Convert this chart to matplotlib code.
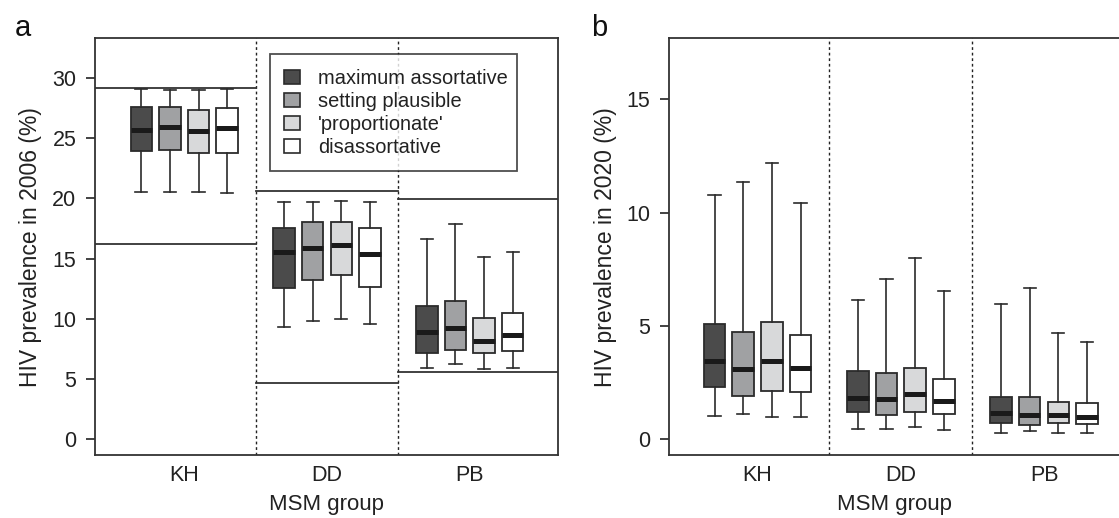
import matplotlib
matplotlib.use("Agg")
import matplotlib.pyplot as plt
from matplotlib.patches import Patch

plt.rcParams['font.family'] = ['Liberation Sans', 'DejaVu Sans']

# MSM groups and mixing scenarios
groups = ["KH", "DD", "PB"]
scenarios = ["maximum assortative", "setting plausible", "'proportionate'", "disassortative"]
colors = ["#4b4b4b", "#a0a1a3", "#d8d9da", "#ffffff"]

# panel a: prevalence 2006, per group -> 4 scenarios
a_whishi = [[29.05, 28.95, 29.0, 29.1], [19.67, 19.67, 19.78, 19.67], [16.6, 17.9, 15.1, 15.5]]
a_q3 = [[27.6, 27.6, 27.3, 27.5], [17.56, 18.0, 18.05, 17.56], [11.06, 11.5, 10.04, 10.5]]
a_med = [[25.7, 25.9, 25.6, 25.8], [15.5, 15.85, 16.1, 15.35], [8.9, 9.2, 8.15, 8.65]]
a_q1 = [[23.95, 24.0, 23.75, 23.75], [12.56, 13.2, 13.6, 12.6], [7.2, 7.4, 7.13, 7.33]]
a_whislo = [[20.5, 20.55, 20.5, 20.4], [9.3, 9.8, 10.0, 9.6], [5.95, 6.27, 5.83, 5.94]]
# observed range per group (horizontal lines)
a_obs_lo = [16.2, 4.67, 5.58]
a_obs_hi = [29.15, 20.6, 19.97]

# panel b: prevalence 2020
b_whishi = [[10.75, 11.36, 12.17, 10.44], [6.15, 7.07, 8.0, 6.54], [5.96, 6.69, 4.68, 4.31]]
b_q3 = [[5.07, 4.75, 5.17, 4.59], [3.01, 2.94, 3.16, 2.67], [1.88, 1.88, 1.66, 1.59]]
b_med = [[3.47, 3.09, 3.47, 3.15], [1.81, 1.78, 2.01, 1.69], [1.15, 1.09, 1.06, 1.0]]
b_q1 = [[2.32, 1.92, 2.14, 2.07], [1.22, 1.09, 1.22, 1.12], [0.73, 0.63, 0.73, 0.66]]
b_whislo = [[1.04, 1.12, 0.97, 0.97], [0.45, 0.45, 0.53, 0.41], [0.29, 0.37, 0.29, 0.26]]

a_ticks = [0, 5, 10, 15, 20, 25, 30]
b_ticks = [0, 5, 10, 15]

edge = "#2b2b2b"
offsets = [-0.3, -0.1, 0.1, 0.3]


def draw_boxes(ax, whishi, q3, med, q1, whislo):
    for g in range(len(groups)):
        for s in range(len(scenarios)):
            st = dict(med=med[g][s], q1=q1[g][s], q3=q3[g][s],
                      whislo=whislo[g][s], whishi=whishi[g][s], fliers=[])
            ax.bxp([st], positions=[g + 1 + offsets[s]], widths=0.15,
                   capwidths=0.085, patch_artist=True, showfliers=False,
                   boxprops=dict(facecolor=colors[s], edgecolor=edge, linewidth=1.3),
                   medianprops=dict(color="#1a1a1a", linewidth=3.6, solid_capstyle="butt"),
                   whiskerprops=dict(color=edge, linewidth=1.2),
                   capprops=dict(color=edge, linewidth=1.2),
                   manage_ticks=False)


def style_axes(ax, ylim, yticks, xlim, ylabel):
    ax.set_xlim(*xlim)
    ax.set_ylim(*ylim)
    ax.set_yticks(yticks)
    ax.set_xticks([1, 2, 3])
    ax.set_xticklabels(groups)
    ax.tick_params(axis="y", length=6.5, width=1.2, pad=7, labelsize=15.5, colors="#222222")
    ax.tick_params(axis="x", length=0, pad=7, labelsize=15.5, colors="#222222")
    for sp in ax.spines.values():
        sp.set_linewidth(1.3)
        sp.set_color("#333333")
    for xv in [1.5, 2.5]:
        ax.axvline(xv, color="#222222", linewidth=1.0, linestyle=(0, (2, 2)))
    ax.set_ylabel(ylabel, fontsize=16.5, color="#222222", labelpad=7)
    ax.set_xlabel("MSM group", fontsize=16, color="#222222", labelpad=6)


fig = plt.figure(figsize=(11.19, 5.18), dpi=100)
ax_a = fig.add_axes([95 / 1119, 1 - 455 / 518, 463 / 1119, 416.7 / 518])
ax_b = fig.add_axes([669 / 1119, 1 - 455 / 518, 452 / 1119, 416.7 / 518])

# panel a
style_axes(ax_a, (-1.30, 33.27), a_ticks, (0.375, 3.618), "HIV prevalence in 2006 (%)")
x_edges = [0.375, 1.5, 2.5, 3.618]
for g in range(len(groups)):
    for yv in (a_obs_lo[g], a_obs_hi[g]):
        ax_a.plot([x_edges[g], x_edges[g + 1]], [yv, yv], color="#333333", linewidth=1.3)
draw_boxes(ax_a, a_whishi, a_q3, a_med, a_q1, a_whislo)

handles = [Patch(facecolor=c, edgecolor=edge, linewidth=1.2) for c in colors]
leg = ax_a.legend(handles, scenarios, loc="upper left",
                  bbox_to_anchor=(0.377, 0.682, 0.535, 0.28), mode="expand",
                  borderaxespad=0, fontsize=14.4, frameon=True, fancybox=False,
                  handlelength=0.8, handleheight=0.7, handletextpad=0.9,
                  borderpad=0.72, labelspacing=0.2)
leg.get_frame().set_edgecolor("#222222")
leg.get_frame().set_linewidth(1.3)
for t in leg.get_texts():
    t.set_color("#222222")

# panel b
style_axes(ax_b, (-0.69, 17.68), b_ticks, (0.382, 3.537), "HIV prevalence in 2020 (%)")
draw_boxes(ax_b, b_whishi, b_q3, b_med, b_q1, b_whislo)

fig.text(23 / 1119, 1 - 28 / 518, "a", fontsize=21, ha="center", va="center", color="#111111")
fig.text(599 / 1119, 1 - 28 / 518, "b", fontsize=21, ha="center", va="center", color="#111111")

fig.savefig("out.png", dpi=100)
